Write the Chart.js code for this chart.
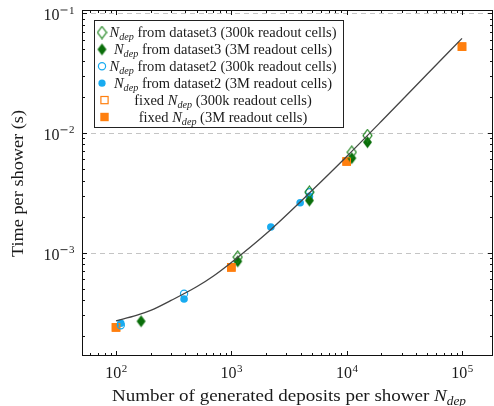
<!DOCTYPE html>
<html>
<head>
<meta charset="utf-8">
<script src="https://cdn.jsdelivr.net/npm/chart.js@4.4.1/dist/chart.umd.min.js"></script>
<style>
  html, body { margin: 0; padding: 0; background: #fff; overflow: hidden; }
  canvas { display: block; }
</style>
</head>
<body>
<canvas id="chart" width="494" height="406"></canvas>
<script>
// fitted curve
const fitX = [100, 150, 200, 300, 500, 700, 1000, 2000, 5000, 10000, 20000, 50000, 100000];
const fitY = [2.7e-4, 3.0e-4, 3.3e-4, 4.0e-4, 5.2e-4, 6.4e-4, 8.3e-4, 1.44e-3, 3.3e-3, 6.35e-3, 1.25e-2, 3.1e-2, 6.15e-2];

// N_dep from dataset3
const ds3SmallX = [1135, 4750, 11070, 15140];
const ds3SmallY = [9.2e-4, 3.2e-3, 6.9e-3, 9.5e-3];
const ds3BigX = [165, 1135, 4750, 11070, 15140];
const ds3BigY = [2.68e-4, 8.47e-4, 2.73e-3, 6.15e-3, 8.36e-3];

// N_dep from dataset2
const ds2SmallX = [110, 389, 4750];
const ds2SmallY = [2.48e-4, 4.55e-4, 3.2e-3];
const ds2BigX = [110, 389, 2200, 3950, 4750];
const ds2BigY = [2.58e-4, 4.11e-4, 1.64e-3, 2.61e-3, 2.95e-3];

// fixed N_dep
const fixedSmallX = [100, 1000, 10000, 100000];
const fixedSmallY = [2.38e-4, 7.55e-4, 5.77e-3, 5.24e-2];
const fixedBigX = [100, 1000, 10000, 100000];
const fixedBigY = [2.38e-4, 7.55e-4, 5.77e-3, 5.24e-2];

// axes
const xTicks = [100, 1000, 10000, 100000];
const xTickExp = ['2', '3', '4', '5'];
const yTicks = [1e-3, 1e-2, 1e-1];
const yTickExp = ['3', '2', '1'];

const GREEN_DARK = '#0a6e0a';
const GREEN = '#1a821a';
const BLUE = '#18abf0';
const ORANGE = '#ff7f0e';
const SERIF = '"Liberation Serif", "DejaVu Serif", serif';

function pts(xs, ys) {
    return xs.map((x, i) => ({ x, y: ys[i] }));
}

// elongated diamond as point image
function diamond(filled, color) {
    const c = document.createElement('canvas');
    c.width = 11; c.height = 14;
    const g = c.getContext('2d');
    g.beginPath();
    g.moveTo(5.5, 1); g.lineTo(10, 7); g.lineTo(5.5, 13); g.lineTo(1, 7); g.closePath();
    if (filled) {
        g.fillStyle = color; g.fill();
    } else {
        g.strokeStyle = color; g.lineWidth = 1.2; g.stroke();
    }
    return c;
}
const diamondOpen = diamond(false, GREEN);
const diamondFull = diamond(true, GREEN_DARK);

function minorValues(lo, hi) {
    const out = [];
    for (let e = Math.floor(Math.log10(lo)); e <= Math.ceil(Math.log10(hi)); e++) {
        for (let m = 1; m <= 9; m++) {
            const v = m * Math.pow(10, e);
            if (v >= lo && v <= hi) out.push(v);
        }
    }
    return out;
}

// "10" with a raised exponent, optional minus sign drawn wide like TeX
function drawPow(ctx, exp, neg, x, baseY, align) {
    const base = '16px ' + SERIF, sup = '11px ' + SERIF;
    ctx.font = base;
    const wb = ctx.measureText('10').width;
    ctx.font = sup;
    const wm = neg ? 9 : 0;
    const we = ctx.measureText(exp).width + wm;
    const left = align === 'center' ? x - (wb + we) / 2 : x - (wb + we);
    ctx.textAlign = 'left';
    ctx.font = base;
    ctx.fillText('10', left, baseY);
    const ex = left + wb + 0.5;
    if (neg) {
        ctx.fillRect(ex + 0.5, baseY - 10.5, 7, 0.9);
    }
    ctx.font = sup;
    ctx.fillText(exp, ex + wm, baseY - 6.5);
}

// text with italic N_dep, stretched horizontally by sx
function fontOf(p, size) {
    return p.sub ? 'italic ' + (size * 0.7) + 'px ' + SERIF : (p.it ? 'italic ' : '') + size + 'px ' + SERIF;
}
function measureRich(ctx, parts, size) {
    let total = 0;
    parts.forEach(p => { ctx.font = fontOf(p, size); total += ctx.measureText(p.t).width; });
    return total;
}
function drawRich(ctx, parts, cx, baseY, size, sx) {
    const total = measureRich(ctx, parts, size);
    ctx.save();
    ctx.translate(cx, baseY);
    ctx.scale(sx, 1);
    let x = -total / 2;
    ctx.textAlign = 'left';
    parts.forEach(p => {
        ctx.font = fontOf(p, size);
        ctx.fillText(p.t, x, p.sub ? size * 0.22 : 0);
        x += ctx.measureText(p.t).width;
    });
    ctx.restore();
}

const legendRows = [
    { marker: 'diamondOpen', parts: [{ t: 'N', it: true }, { t: 'dep', sub: true }, { t: ' from dataset3 (300k readout cells)' }] },
    { marker: 'diamondFull', parts: [{ t: 'N', it: true }, { t: 'dep', sub: true }, { t: ' from dataset3 (3M readout cells)' }] },
    { marker: 'circleOpen', parts: [{ t: 'N', it: true }, { t: 'dep', sub: true }, { t: ' from dataset2 (300k readout cells)' }] },
    { marker: 'circleFull', parts: [{ t: 'N', it: true }, { t: 'dep', sub: true }, { t: ' from dataset2 (3M readout cells)' }] },
    { marker: 'squareOpen', parts: [{ t: 'fixed ' }, { t: 'N', it: true }, { t: 'dep', sub: true }, { t: ' (300k readout cells)' }] },
    { marker: 'squareFull', parts: [{ t: 'fixed ' }, { t: 'N', it: true }, { t: 'dep', sub: true }, { t: ' (3M readout cells)' }] }
];

function drawMarker(ctx, kind, x, y) {
    ctx.save();
    if (kind === 'diamondOpen') ctx.drawImage(diamondOpen, x - 5.5, y - 7);
    else if (kind === 'diamondFull') ctx.drawImage(diamondFull, x - 5.5, y - 7);
    else if (kind.startsWith('circle')) {
        ctx.beginPath(); ctx.arc(x, y, 3.6, 0, Math.PI * 2);
        if (kind === 'circleFull') { ctx.fillStyle = BLUE; ctx.fill(); }
        else { ctx.strokeStyle = BLUE; ctx.lineWidth = 1.2; ctx.stroke(); }
    } else {
        if (kind === 'squareFull') { ctx.fillStyle = ORANGE; ctx.fillRect(x - 4.2, y - 4.2, 8.4, 8.4); }
        else { ctx.strokeStyle = ORANGE; ctx.lineWidth = 1.2; ctx.strokeRect(x - 3.6, y - 3.6, 7.2, 7.2); }
    }
    ctx.restore();
}

const framePlugin = {
    id: 'frame',
    beforeDatasetsDraw(chart) {
        const { ctx, chartArea: a, scales: { y } } = chart;
        ctx.save();
        ctx.strokeStyle = '#c4c4c4';
        ctx.lineWidth = 1;
        ctx.setLineDash([5, 4]);
        yTicks.forEach(v => {
            const py = Math.round(y.getPixelForValue(v)) + 0.5;
            ctx.beginPath(); ctx.moveTo(a.left, py); ctx.lineTo(a.right, py); ctx.stroke();
        });
        ctx.restore();
    },
    afterDraw(chart) {
        const { ctx, chartArea: a, scales: { x, y } } = chart;
        ctx.save();
        ctx.strokeStyle = '#111';
        ctx.lineWidth = 1;

        // ticks pointing inward on all four sides
        const xMajor = new Set(xTicks);
        minorValues(x.min, x.max).forEach(v => {
            const px = Math.round(x.getPixelForValue(v)) + 0.5;
            const len = xMajor.has(v) ? 5 : 3;
            ctx.beginPath();
            ctx.moveTo(px, a.bottom); ctx.lineTo(px, a.bottom - len);
            ctx.moveTo(px, a.top); ctx.lineTo(px, a.top + len);
            ctx.stroke();
        });
        const yMajor = yTicks.map(v => v.toExponential());
        minorValues(y.min, y.max).forEach(v => {
            const py = Math.round(y.getPixelForValue(v)) + 0.5;
            const len = yMajor.includes(v.toExponential()) ? 5 : 3;
            ctx.beginPath();
            ctx.moveTo(a.left, py); ctx.lineTo(a.left + len, py);
            ctx.moveTo(a.right, py); ctx.lineTo(a.right - len, py);
            ctx.stroke();
        });

        ctx.strokeRect(a.left + 0.5, a.top + 0.5, a.right - a.left - 1, a.bottom - a.top - 1);

        // tick labels
        ctx.fillStyle = '#1a1a1a';
        ctx.textBaseline = 'alphabetic';
        xTicks.forEach((v, i) => drawPow(ctx, xTickExp[i], false, x.getPixelForValue(v), a.bottom + 22, 'center'));
        yTicks.forEach((v, i) => drawPow(ctx, yTickExp[i], true, a.left - 8, y.getPixelForValue(v) + 7, 'right'));

        // axis titles
        const xTitle = [{ t: 'Number of generated deposits per shower ' }, { t: 'N', it: true }, { t: 'dep', sub: true }];
        drawRich(ctx, xTitle, 289, 401, 17.3, 354 / measureRich(ctx, xTitle, 17.3));
        const yTitle = [{ t: 'Time per shower (s)' }];
        ctx.save();
        ctx.translate(23, 183.5);
        ctx.rotate(-Math.PI / 2);
        drawRich(ctx, yTitle, 0, 0, 17.3, 147 / measureRich(ctx, yTitle, 17.3));
        ctx.restore();

        // legend
        const box = { left: 94, top: 20, right: 344, bottom: 128 };
        ctx.fillStyle = '#fff';
        ctx.fillRect(box.left, box.top, box.right - box.left, box.bottom - box.top);
        ctx.strokeStyle = '#222';
        ctx.strokeRect(box.left + 0.5, box.top + 0.5, box.right - box.left - 1, box.bottom - box.top - 1);
        const sx = 227 / measureRich(ctx, legendRows[0].parts, 14.2);
        legendRows.forEach((row, i) => {
            const cy = 32.5 + i * 16.9;
            const mx = i < 4 ? 102 : 104.5;
            drawMarker(ctx, row.marker, mx, cy);
            ctx.fillStyle = '#1a1a1a';
            drawRich(ctx, row.parts, 223, cy + 4.5, 14.2, sx);
        });
        ctx.restore();
    }
};

new Chart(document.getElementById('chart'), {
    type: 'scatter',
    data: {
        datasets: [
            {
                label: 'fit',
                data: pts(fitX, fitY),
                showLine: true,
                borderColor: '#444',
                borderWidth: 1.3,
                pointRadius: 0,
                cubicInterpolationMode: 'monotone',
                order: 0
            },
            {
                label: 'dataset3 300k',
                data: pts(ds3SmallX, ds3SmallY),
                pointStyle: diamondOpen,
                order: 1
            },
            {
                label: 'dataset2 300k',
                data: pts(ds2SmallX, ds2SmallY),
                pointStyle: 'circle',
                pointRadius: 3.6,
                borderColor: BLUE,
                borderWidth: 1.2,
                backgroundColor: 'rgba(0,0,0,0)',
                order: 2
            },
            {
                label: 'fixed 300k',
                data: pts(fixedSmallX, fixedSmallY),
                pointStyle: 'rect',
                pointRadius: 5.3,
                borderColor: ORANGE,
                borderWidth: 1.2,
                backgroundColor: 'rgba(0,0,0,0)',
                order: 3
            },
            {
                label: 'dataset3 3M',
                data: pts(ds3BigX, ds3BigY),
                pointStyle: diamondFull,
                order: 4
            },
            {
                label: 'dataset2 3M',
                data: pts(ds2BigX, ds2BigY),
                pointStyle: 'circle',
                pointRadius: 3.8,
                borderWidth: 0,
                backgroundColor: BLUE,
                order: 5
            },
            {
                label: 'fixed 3M',
                data: pts(fixedBigX, fixedBigY),
                pointStyle: 'rect',
                pointRadius: 6,
                borderWidth: 0,
                backgroundColor: ORANGE,
                order: 6
            }
        ]
    },
    options: {
        responsive: false,
        animation: false,
        events: [],
        layout: { autoPadding: false, padding: { left: 82, top: 10, right: 1, bottom: 50 } },
        plugins: {
            legend: { display: false },
            tooltip: { enabled: false }
        },
        scales: {
            x: { type: 'logarithmic', min: 50.7, max: 185700, display: false },
            y: { type: 'logarithmic', min: 1.375e-4, max: 0.106, display: false }
        }
    },
    plugins: [framePlugin]
});
</script>
</body>
</html>
